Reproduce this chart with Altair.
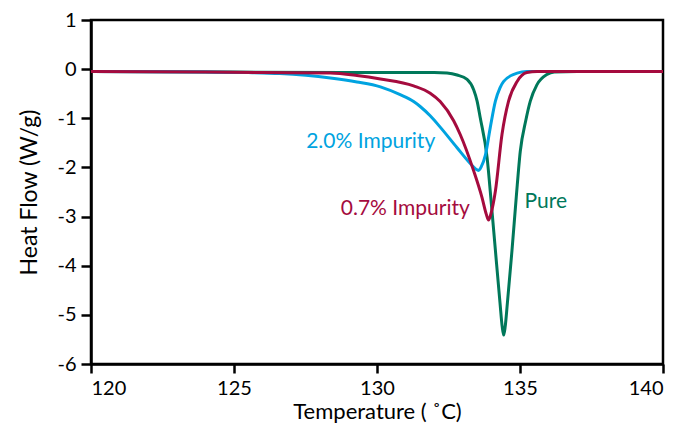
import altair as alt
import pandas as pd

# Pure
pure_t = [120, 125, 130, 132.0, 132.45, 132.8, 133.15, 133.38, 133.5, 133.61, 133.85, 134.0, 134.14, 134.3, 134.38, 134.43, 134.48, 134.56, 134.72, 134.87, 135.01, 135.2, 135.36, 135.59, 135.94, 136.2, 137, 140]
pure_v = [-0.05, -0.06, -0.07, -0.07, -0.08, -0.12, -0.21, -0.42, -0.65, -0.99, -1.80, -2.75, -3.69, -4.75, -5.25, -5.41, -5.25, -4.75, -3.69, -2.6, -1.67, -1.05, -0.65, -0.32, -0.11, -0.06, -0.05, -0.05]

# 0.7% Impurity
red_t = [120, 124, 126, 128.37, 129.3, 130.12, 131.28, 131.86, 132.21, 132.68, 132.91, 133.38, 133.67, 133.82, 133.9, 133.98, 134.14, 134.37, 134.6, 134.9, 135.24, 135.6, 137, 140]
red_v = [-0.05, -0.06, -0.07, -0.08, -0.13, -0.2, -0.34, -0.49, -0.66, -1.05, -1.33, -2.07, -2.61, -2.95, -3.07, -2.95, -2.48, -1.33, -0.65, -0.25, -0.07, -0.05, -0.05, -0.05]

# 2.0% Impurity
blue_t = [120, 124, 125.5, 126.6, 128.37, 129.3, 130.12, 130.81, 131.28, 131.51, 131.86, 132.21, 132.8, 133.26, 133.45, 133.55, 133.65, 133.79, 133.96, 134.14, 134.3, 134.43, 134.9, 135.24, 137, 140]
blue_v = [-0.05, -0.06, -0.07, -0.09, -0.18, -0.26, -0.36, -0.52, -0.66, -0.76, -0.95, -1.18, -1.6, -1.92, -2.03, -2.06, -1.98, -1.75, -1.19, -0.65, -0.38, -0.25, -0.08, -0.05, -0.05, -0.05]

series_names = ["Pure", "2.0% Impurity", "0.7% Impurity"]
series_colors = ["#00785A", "#00A3E0", "#A50B3E"]

label_text = ["2.0% Impurity", "0.7% Impurity", "Pure"]
label_t = [129.78, 130.99, 135.9]
label_v = [-1.48, -2.84, -2.71]
label_color = ["#00A3E0", "#A50B3E", "#00785A"]

x_ticks = [120, 125, 130, 135, 140]
y_ticks = [-6, -5, -4, -3, -2, -1, 0, 1]

FONT = "Lato"

rows = []
for name, ts, vs in zip(series_names, [pure_t, blue_t, red_t], [pure_v, blue_v, red_v]):
    for i, (t, v) in enumerate(zip(ts, vs)):
        rows.append({"series": name, "T": t, "HF": v, "order": i})
df = pd.DataFrame(rows)

labels = pd.DataFrame({"text": label_text, "T": label_t, "HF": label_v, "color": label_color})

x = alt.X("T:Q", scale=alt.Scale(domain=[120, 140], nice=False),
          axis=alt.Axis(values=x_ticks, title="Temperature ( ˚C)", grid=False,
                        tickSize=9, tickWidth=2.5, domainWidth=2.5, domainColor="black", tickColor="black",
                        labelFontSize=20, labelFont=FONT, labelColor="black", labelPadding=5,
                        labelExpr="'' + datum.value",
                        titleFontSize=22, titleFont=FONT, titleFontWeight="normal", titleColor="black",
                        titlePadding=3))
y = alt.Y("HF:Q", scale=alt.Scale(domain=[-6, 1], nice=False),
          axis=alt.Axis(values=y_ticks, title="Heat Flow (W/g)", grid=False,
                        tickSize=10, tickWidth=2.5, domainWidth=2.5, domainColor="black", tickColor="black",
                        labelFontSize=20, labelFont=FONT, labelColor="black", labelPadding=5,
                        labelExpr="'' + datum.value",
                        titleFontSize=23, titleFont=FONT, titleFontWeight="normal", titleColor="black",
                        titlePadding=15))

lines = alt.Chart(df).mark_line(strokeWidth=3, interpolate="monotone").encode(
    x=x, y=y,
    color=alt.Color("series:N", scale=alt.Scale(domain=series_names, range=series_colors), legend=None),
    order="order:Q",
    detail="series:N",
)

text = alt.Chart(labels).mark_text(fontSize=21, font=FONT, align="center", baseline="middle").encode(
    x="T:Q", y="HF:Q",
    text="text:N",
    color=alt.Color("color:N", scale=None),
)

chart = alt.layer(lines, text).properties(
    width=572, height=344,
    autosize=alt.AutoSizeParams(type="none"),
    padding={"left": 83, "top": 12, "right": 16, "bottom": 60},
).configure_view(stroke="black", strokeWidth=2.5)

chart.save("out.html", embed_options={"renderer": "svg", "actions": False})
